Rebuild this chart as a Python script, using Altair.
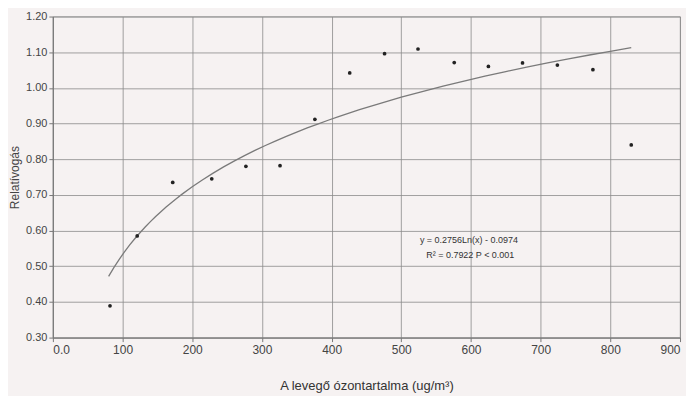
import altair as alt
import pandas as pd

# Data
ozone = [82, 121, 172, 228, 277, 326, 376, 426, 476, 524, 576, 625, 674, 724, 775, 830]
relative = [0.389, 0.585, 0.735, 0.745, 0.780, 0.782, 0.912, 1.042, 1.096, 1.109,
            1.071, 1.060, 1.070, 1.064, 1.051, 0.840]

x_ticks = [0, 100, 200, 300, 400, 500, 600, 700, 800, 900]
y_ticks = [0.3, 0.4, 0.5, 0.6, 0.7, 0.8, 0.9, 1.0, 1.1, 1.2]

eq_lines = ["y = 0.2756Ln(x) - 0.0974", "R² = 0.7922 P < 0.001"]
eq_x = [597, 599]
eq_y = [0.574, 0.532]

trend_extent = [80, 830]

df = pd.DataFrame({"x": ozone, "y": relative})
ann = pd.DataFrame({"label": eq_lines, "x": eq_x, "y": eq_y})

xscale = alt.Scale(domain=[0, 900], nice=False, zero=False)
yscale = alt.Scale(domain=[0.3, 1.2], nice=False, zero=False)

xaxis = alt.Axis(
    title="A levegő ózontartalma (ug/m³)",
    values=x_ticks,
    labelExpr="datum.value == 0 ? '0.0' : format(datum.value, 'd')",
    labelOverlap=False,
    grid=True, gridColor="#8a8a8a", gridWidth=0.8,
    domainColor="#777777", tickColor="#777777", tickSize=4,
    labelFont="Liberation Sans", labelFontSize=12, labelColor="#444444",
    labelPadding=3,
    titleFont="Liberation Sans", titleFontSize=13, titleFontWeight="normal",
    titleColor="#333333", titlePadding=24,
)
yaxis = alt.Axis(
    title="Relatívogás",
    values=y_ticks,
    format=".2f",
    labelOverlap=False,
    grid=True, gridColor="#8a8a8a", gridWidth=0.8,
    domainColor="#777777", tickColor="#777777", tickSize=4,
    labelFont="Liberation Sans", labelFontSize=11, labelColor="#444444",
    labelPadding=2,
    titleFont="Liberation Sans", titleFontSize=12, titleFontWeight="normal",
    titleColor="#444444", titlePadding=4,
)

X = alt.X("x:Q", scale=xscale, axis=xaxis)
Y = alt.Y("y:Q", scale=yscale, axis=yaxis)

base = alt.Chart(df)

points = base.mark_point(filled=True, color="#222222", size=14, opacity=1).encode(x=X, y=Y)

trend = base.transform_regression(
    "x", "y", method="log", extent=trend_extent
).mark_line(color="#7a7a7a", strokeWidth=1.3).encode(x=X, y=Y)

text = alt.Chart(ann).mark_text(
    font="Liberation Sans", fontSize=9, color="#333333", align="center", baseline="middle"
).encode(x=X, y=Y, text="label:N")

chart = alt.layer(trend, points, text).properties(
    width=629,
    height=322,
    autosize=alt.AutoSizeParams(type="none"),
    padding={"left": 45, "top": 8, "right": 6, "bottom": 58},
    background="#f6f2f2",
).configure_view(stroke="#8a8a8a", strokeWidth=0.8)

chart.save("out.html", embed_options={"renderer": "svg", "actions": False})
